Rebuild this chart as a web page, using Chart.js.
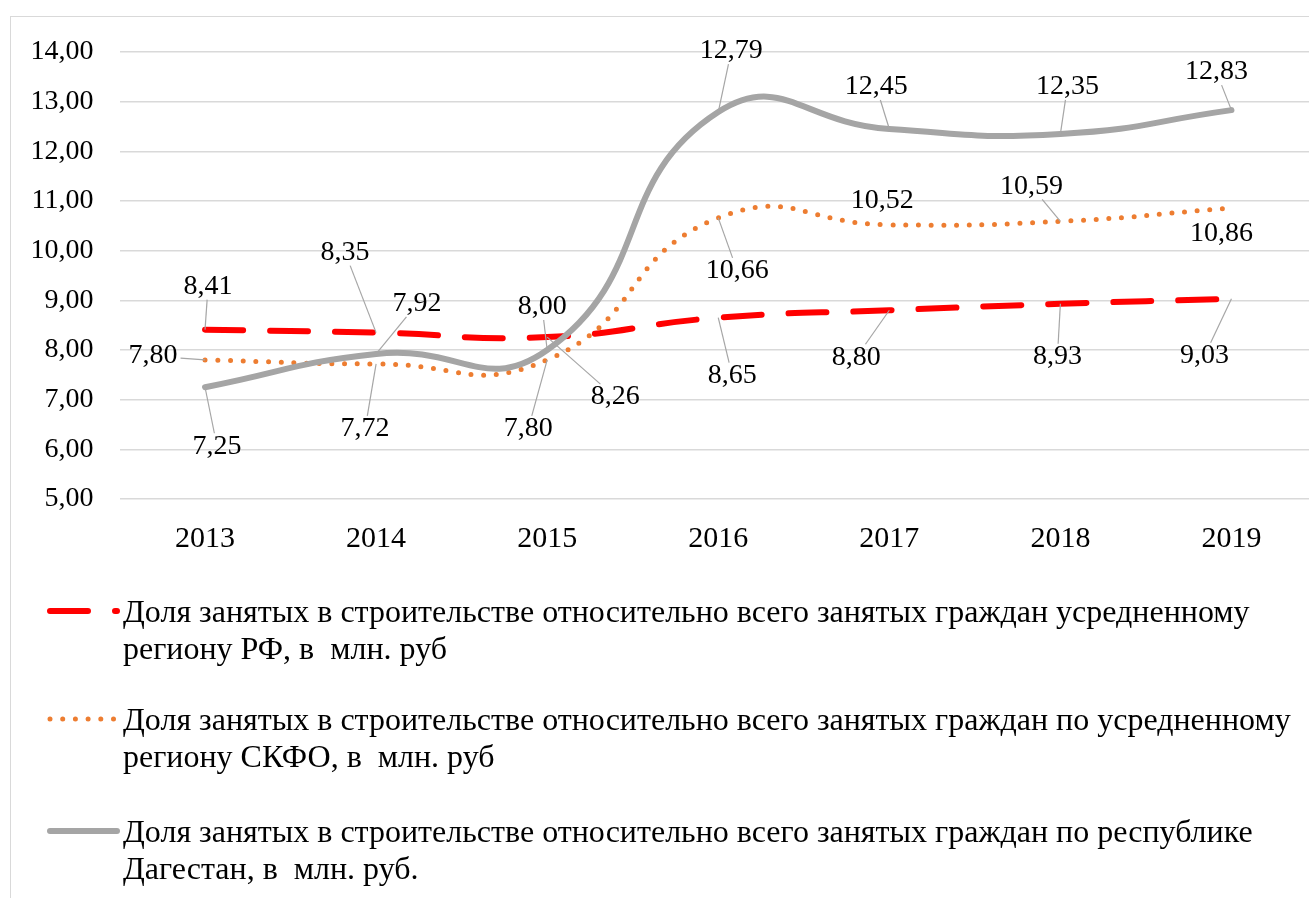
<!DOCTYPE html>
<html lang="ru">
<head>
<meta charset="utf-8">
<title>Доля занятых в строительстве</title>
<script src="https://cdn.jsdelivr.net/npm/chart.js@4.4.1/dist/chart.umd.min.js"></script>
<style>
  html, body { margin: 0; padding: 0; background: #fff; overflow: hidden; width: 1309px; height: 898px; }
  #frame { position: absolute; left: 10px; top: 16px; width: 1340px; height: 900px; border: 1px solid #d9d9d9; box-sizing: border-box; }
  #wrap { position: absolute; left: 0; top: 0; width: 1320px; height: 881px; }
</style>
</head>
<body>
<div id="frame"><div id="wrap"><canvas id="chart"></canvas></div></div>
<script>
// values
const years = ['2013', '2014', '2015', '2016', '2017', '2018', '2019'];
const rfValues = [8.41, 8.35, 8.26, 8.65, 8.80, 8.93, 9.03];
const skfoValues = [7.80, 7.72, 7.80, 10.66, 10.52, 10.59, 10.86];
const dagValues = [7.25, 7.92, 8.00, 12.79, 12.45, 12.35, 12.83];
const yMin = 5, yMax = 14, yStep = 1;

const seriesNames = [
  ['Доля занятых в строительстве относительно всего занятых граждан усредненному', 'региону РФ, в  млн. руб'],
  ['Доля занятых в строительстве относительно всего занятых граждан по усредненному', 'региону СКФО, в  млн. руб'],
  ['Доля занятых в строительстве относительно всего занятых граждан по республике', 'Дагестан, в  млн. руб.']
];

const SERIF = '"Liberation Serif", "Times New Roman", serif';
const fmt = v => v.toFixed(2).replace('.', ',');

// where Excel put each data label, relative to its point (px)
const rfShift = [[3, -43], [-31, -80], [68, 60], [14, 58], [-33, 47], [-3, 53], [-27, 57]];
const skfoShift = [[-52, -4], [-11, 65], [-19, 69], [19, 53], [-7, -24], [-29, -35], [-10, 26]];
const dagShift = [[12, 59], [41, -50], [-5, -43], [13, -61], [-13, -42], [7, -47], [-15, -38]];

const pointLabels = {
  id: 'pointLabels',
  afterDatasetsDraw(chart) {
    const ctx = chart.ctx;
    ctx.save();
    ctx.font = '28px ' + SERIF;
    ctx.textAlign = 'center';
    ctx.textBaseline = 'middle';
    chart.data.datasets.forEach((ds, di) => {
      chart.getDatasetMeta(di).data.forEach((pt, i) => {
        const [dx, dy] = ds.labelShift[i];
        const cx = pt.x + dx, cy = pt.y + dy;
        const text = fmt(ds.data[i]);
        const hw = ctx.measureText(text).width / 2 + 3, hh = 13;
        const t = Math.min(dx ? hw / Math.abs(dx) : Infinity, dy ? hh / Math.abs(dy) : Infinity);
        const len = Math.hypot(dx, dy);
        if ((1 - t) * len > 14) {
          ctx.strokeStyle = '#a6a6a6';
          ctx.lineWidth = 1.2;
          ctx.setLineDash([]);
          ctx.beginPath();
          ctx.moveTo(cx - dx * t, cy - dy * t);
          ctx.lineTo(pt.x, pt.y);
          ctx.stroke();
        }
        ctx.fillStyle = '#000';
        ctx.fillText(text, cx, cy);
      });
    });
    ctx.restore();
  }
};

// legend under the plot, two lines per entry like the original
const legendBlock = {
  id: 'legendBlock',
  afterDraw(chart) {
    const ctx = chart.ctx;
    const base = chart.chartArea.bottom;
    const rows = [115, 223, 335];
    ctx.save();
    chart.data.datasets.forEach((ds, di) => {
      const y = base + rows[di];
      ctx.strokeStyle = ds.borderColor;
      ctx.lineWidth = ds.borderWidth;
      ctx.lineCap = 'round';
      ctx.setLineDash(ds.borderDash || []);
      ctx.beginPath();
      ctx.moveTo(39, y - 3);
      ctx.lineTo(106, y - 3);
      ctx.stroke();
      ctx.setLineDash([]);
      ctx.font = '32px ' + SERIF;
      ctx.fillStyle = '#000';
      ctx.textAlign = 'left';
      ctx.textBaseline = 'middle';
      seriesNames[di].forEach((line, k) => ctx.fillText(line, 112, y + k * 36.5));
    });
    ctx.restore();
  }
};

new Chart(document.getElementById('chart'), {
  type: 'line',
  data: {
    labels: years,
    datasets: [
      {
        data: rfValues, labelShift: rfShift, order: 2,
        borderColor: '#ff0000', borderWidth: 6, borderDash: [38, 27], borderCapStyle: 'round'
      },
      {
        data: skfoValues, labelShift: skfoShift, order: 1,
        borderColor: '#ed7d31', borderWidth: 5, borderDash: [0, 12.7], borderCapStyle: 'round'
      },
      {
        data: dagValues, labelShift: dagShift, order: 0,
        borderColor: '#a5a5a5', borderWidth: 6, borderCapStyle: 'round'
      }
    ]
  },
  options: {
    responsive: true,
    maintainAspectRatio: false,
    animation: false,
    events: [],
    elements: { line: { tension: 0.5, fill: false }, point: { radius: 0 } },
    layout: { autoPadding: false, padding: { top: 35, right: 14, bottom: 321, left: 0 } },
    plugins: { legend: { display: false }, tooltip: { enabled: false } },
    scales: {
      x: {
        offset: true,
        grid: { display: false },
        border: { display: false },
        ticks: { color: '#000', font: { family: SERIF, size: 30 }, padding: 14 },
        afterFit(scale) { scale.height = 78; }
      },
      y: {
        min: yMin, max: yMax,
        grid: { color: '#d9d9d9', lineWidth: 1.5, drawTicks: false },
        border: { display: false },
        ticks: {
          stepSize: yStep, padding: 26, color: '#000',
          font: { family: SERIF, size: 28 },
          callback: v => fmt(v)
        },
        afterFit(scale) {
          scale.width = 108.5;
          scale.paddingTop = 0;
          scale.paddingBottom = 0;
        }
      }
    }
  },
  plugins: [pointLabels, legendBlock]
});
</script>
</body>
</html>
